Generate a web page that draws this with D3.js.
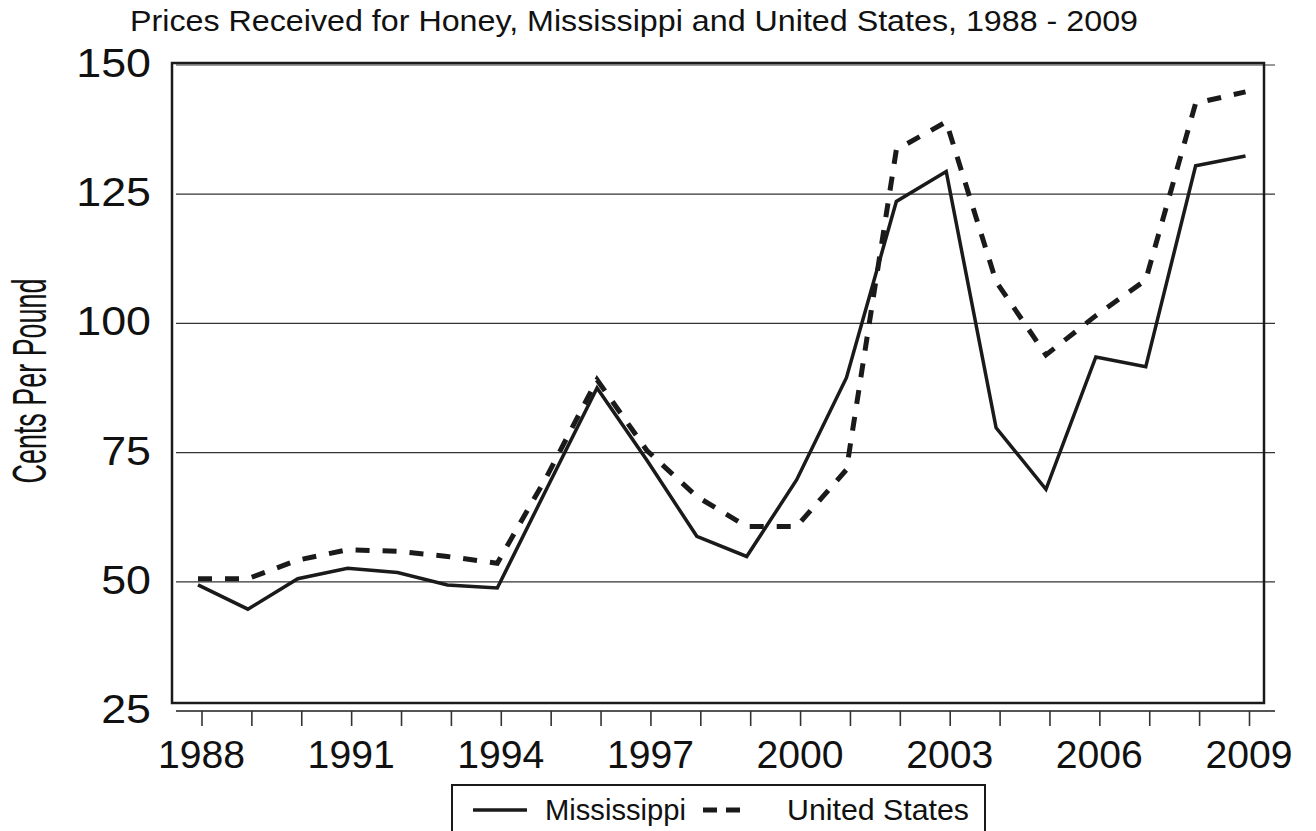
<!DOCTYPE html>
<html>
<head>
<meta charset="utf-8">
<script src="https://cdn.jsdelivr.net/npm/d3@7"></script>
<style>
  html, body { margin: 0; padding: 0; background: #fff; }
  svg { display: block; }
  text { font-family: "Liberation Sans", Arial, Helvetica, sans-serif; fill: #111; }
</style>
</head>
<body>
<svg id="chart" width="1316" height="831"></svg>
<script>
const years = [1988,1989,1990,1991,1992,1993,1994,1995,1996,1997,1998,1999,2000,2001,2002,2003,2004,2005,2006,2007,2008,2009];
const mississippi = [49.4,44.7,50.6,52.6,51.8,49.4,48.8,68.2,87.5,73.5,58.8,54.9,69.7,89.5,123.6,129.4,79.8,67.9,93.5,91.6,130.5,132.4];
const unitedStates = [50.6,50.6,54.2,56.2,55.9,54.9,53.6,70.5,89.1,75.4,66.5,60.7,60.7,71.7,133.6,139.0,108.1,93.9,101.5,108.4,142.6,144.8];
const yTicks = [25,50,75,100,125,150];
const xTickLabels = [1988,1991,1994,1997,2000,2003,2006,2009];
const seriesNames = ["Mississippi","United States"];
const titleText = "Prices Received for Honey, Mississippi and United States, 1988 - 2009";
const yTitle = "Cents Per Pound";

const svg = d3.select("#chart");
const x = d3.scaleLinear().domain([1988, 2009]).range([198, 1245.5]);
const y = d3.scaleLinear().domain([25, 150]).range([711, 65]);

// title
svg.append("text").attr("x", 130).attr("y", 31).attr("text-anchor", "start")
  .attr("textLength", 1008).attr("lengthAdjust", "spacingAndGlyphs")
  .style("font-size", "29px").text(titleText);

// gridlines
svg.append("g").selectAll("line").data(yTicks).join("line")
  .attr("x1", 176).attr("x2", 1275)
  .attr("y1", d => y(d)).attr("y2", d => y(d))
  .attr("stroke", d => d === 25 ? "#555" : "#333")
  .attr("stroke-width", d => d === 25 ? 2.2 : 1.2);

// frame
svg.append("rect").attr("x", 172).attr("y", 63).attr("width", 1092).attr("height", 640)
  .attr("fill", "none").attr("stroke", "#1a1a1a").attr("stroke-width", 2.5);

// x axis ticks
const xAxis = d3.axisBottom(x).tickValues(years).tickSize(15).tickFormat("");
const gx = svg.append("g").attr("transform", "translate(3.5," + y(25) + ")").call(xAxis);
gx.select(".domain").remove();
gx.selectAll(".tick line").attr("stroke", "#333").attr("stroke-width", 1.6);

// x labels
svg.append("g").selectAll("text").data(xTickLabels).join("text")
  .attr("transform", d => "translate(" + (x(d) + 3.5) + ",768) scale(1.03,1)")
  .attr("text-anchor", "middle")
  .style("font-size", "38px").text(d => d);

// y labels
svg.append("g").selectAll("text").data(yTicks).join("text")
  .attr("transform", d => "translate(151," + (y(d) + 12) + ") scale(1.12,1)")
  .attr("text-anchor", "end")
  .style("font-size", "40px").text(d => d);

// y title
svg.append("text")
  .attr("transform", "translate(46,381) rotate(-90)")
  .attr("text-anchor", "middle")
  .attr("textLength", 205).attr("lengthAdjust", "spacingAndGlyphs")
  .style("font-size", "49px").text(yTitle);

// lines
const line = (vals) => d3.line().x((d, i) => x(years[i])).y(d => y(d))(vals);
svg.append("path").attr("d", line(unitedStates)).attr("fill", "none")
  .attr("stroke", "#1a1a1a").attr("stroke-width", 5).attr("stroke-dasharray", "14,13");
svg.append("path").attr("d", line(mississippi)).attr("fill", "none")
  .attr("stroke", "#1a1a1a").attr("stroke-width", 3.5).attr("stroke-linejoin", "miter");

// legend
const lg = svg.append("g");
lg.append("rect").attr("x", 452).attr("y", 785).attr("width", 533).attr("height", 60)
  .attr("fill", "#fff").attr("stroke", "#1a1a1a").attr("stroke-width", 2);
lg.append("line").attr("x1", 473).attr("x2", 527).attr("y1", 810).attr("y2", 810)
  .attr("stroke", "#1a1a1a").attr("stroke-width", 3.5);
lg.append("text").attr("x", 545).attr("y", 820).attr("textLength", 141).attr("lengthAdjust", "spacingAndGlyphs")
  .style("font-size", "29px").text(seriesNames[0]);
lg.append("line").attr("x1", 703).attr("x2", 741).attr("y1", 810).attr("y2", 810)
  .attr("stroke", "#1a1a1a").attr("stroke-width", 5).attr("stroke-dasharray", "14,9");
lg.append("text").attr("x", 787).attr("y", 820).attr("textLength", 182).attr("lengthAdjust", "spacingAndGlyphs")
  .style("font-size", "29px").text(seriesNames[1]);
</script>
</body>
</html>
